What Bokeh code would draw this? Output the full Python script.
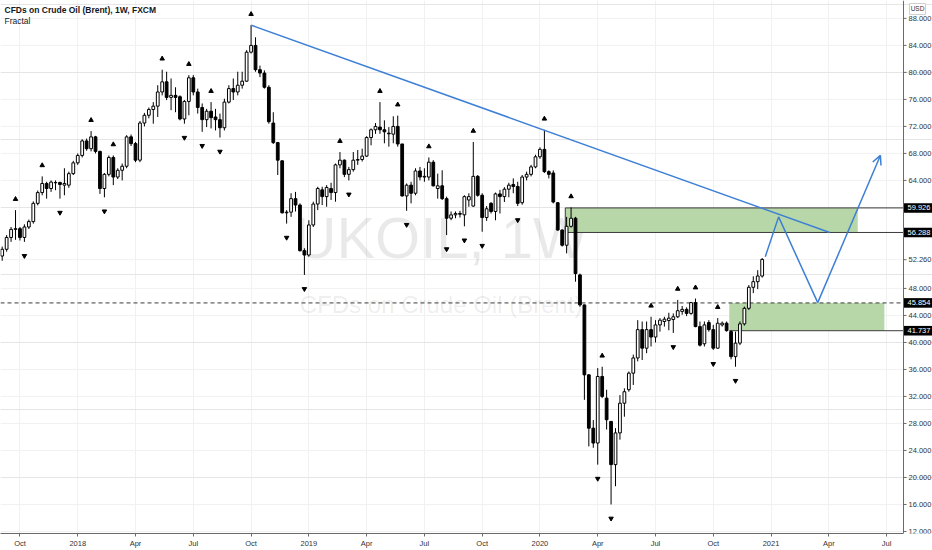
import numpy as np
import pandas as pd
from bokeh.plotting import figure
from bokeh.models import (Range1d, FixedTicker, Label, Span, Arrow, OpenHead, ColumnDataSource)
from bokeh.core.properties import value
from bokeh.embed import file_html
from bokeh.resources import INLINE

# ---------------- data ----------------
first_bar = "2017-09-03"   # weekly bars (Sunday start, FXCM)

opens = [
    52.8, 53.8, 55.55, 56.75, 56.85, 55.55, 57.1, 57.9, 60.6, 62.2,
    63.55, 62.8, 63.65, 63.7, 63.3, 63.3, 65.0, 66.6, 67.7, 69.85,
    68.7, 70.45, 68.3, 62.8, 64.9, 67.4, 64.5, 65.5, 66.1, 70.45,
    69.45, 67.0, 72.5, 73.65, 74.5, 75.0, 77.1, 78.6, 76.3, 76.6,
    76.4, 73.1, 75.7, 79.2, 77.1, 74.8, 73.0, 74.25, 73.4, 73.0,
    71.8, 75.6, 77.6, 77.1, 78.1, 78.7, 83.0, 84.0, 80.4, 79.9,
    77.8, 72.5, 69.6, 66.9, 59.2, 59.3, 61.3, 60.35, 53.6, 52.95,
    57.4, 60.5, 62.6, 61.6, 62.8, 62.2, 66.3, 67.0, 64.9, 65.6,
    67.0, 67.1, 67.6, 70.35, 71.5, 71.9, 71.5, 71.0, 70.85, 72.0,
    69.4, 61.7, 63.3, 62.1, 65.4, 64.5, 64.5, 66.7, 62.8, 63.2,
    61.3, 58.4, 58.9, 59.1, 58.9, 61.1, 60.2, 64.6, 61.8, 58.5,
    60.6, 59.4, 62.0, 61.6, 62.7, 63.4, 63.1, 60.7, 64.5, 64.9,
    66.0, 67.5, 68.6, 65.3, 65.1, 60.7, 56.65, 54.4, 57.2, 58.4,
    50.0, 45.56, 35.2, 27.3, 25.1, 34.96, 31.75, 28.3, 21.9, 26.6,
    31.0, 33.0, 35.45, 37.7, 41.9, 39.15, 41.9, 40.8, 42.6, 43.1,
    43.24, 43.4, 43.8, 44.6, 44.9, 44.3, 45.9, 42.35, 39.8, 42.95,
    41.9, 39.15, 42.6, 42.85, 41.6, 37.9, 39.9, 42.75, 45.06, 48.17,
    49.0, 49.84]

highs = [
    54.2, 55.9, 57.1, 59.6, 57.1, 57.5, 58.2, 60.9, 62.5, 64.6,
    63.8, 64.0, 64.0, 63.8, 65.8, 65.3, 66.9, 68.0, 70.1, 70.2,
    71.3, 70.6, 68.4, 65.1, 67.7, 67.7, 65.8, 66.5, 70.7, 70.8,
    69.7, 72.8, 74.0, 74.8, 75.6, 78.1, 80.4, 80.1, 79.1, 77.8,
    76.6, 75.9, 79.6, 79.6, 77.6, 75.4, 74.6, 75.6, 74.6, 73.9,
    76.1, 78.1, 79.1, 80.1, 80.1, 83.3, 87.0, 85.2, 81.0, 80.3,
    78.1, 74.1, 69.7, 67.0, 59.6, 62.1, 62.3, 60.6, 53.95, 58.1,
    60.85, 63.06, 63.06, 63.3, 63.65, 66.5, 68.2, 67.1, 66.0, 68.2,
    68.5, 68.7, 70.55, 71.7, 72.5, 75.6, 72.9, 71.9, 73.5, 73.6,
    69.4, 63.55, 63.8, 65.8, 66.0, 65.8, 67.4, 67.0, 65.0, 65.5,
    61.6, 59.4, 59.4, 59.5, 61.8, 62.1, 69.7, 64.8, 62.1, 60.2,
    60.8, 62.2, 62.6, 63.0, 63.65, 64.3, 63.8, 64.8, 65.3, 66.3,
    67.8, 68.9, 71.5, 65.5, 65.5, 60.8, 56.75, 58.6, 60.0, 58.6,
    50.2, 45.6, 35.3, 28.5, 36.2, 36.4, 33.0, 28.3, 27.3, 32.2,
    33.2, 35.7, 38.2, 43.3, 43.1, 43.1, 43.8, 43.3, 43.6, 43.8,
    44.4, 44.3, 46.3, 45.4, 45.2, 46.0, 46.5, 43.1, 43.1, 43.3,
    42.6, 43.6, 43.1, 43.1, 41.8, 41.6, 43.1, 45.3, 48.5, 49.8,
    50.7, 52.5]

lows = [
    52.1, 53.45, 54.9, 55.2, 55.1, 54.9, 56.8, 57.6, 60.3, 61.8,
    61.3, 62.3, 62.55, 61.3, 61.8, 62.9, 64.8, 66.3, 67.4, 68.4,
    68.3, 68.0, 62.0, 61.5, 64.6, 63.3, 64.2, 64.0, 65.8, 69.1,
    66.7, 66.7, 72.0, 73.2, 72.4, 73.4, 76.6, 75.9, 74.4, 74.1,
    72.9, 72.4, 73.65, 76.6, 73.9, 71.2, 71.9, 71.7, 71.4, 70.35,
    71.4, 75.4, 75.9, 76.6, 77.6, 78.6, 82.8, 80.1, 79.3, 77.6,
    72.4, 69.4, 64.8, 59.1, 57.6, 58.6, 59.4, 53.45, 50.0, 52.7,
    57.1, 59.6, 60.35, 60.1, 61.1, 60.85, 65.8, 64.5, 64.0, 65.3,
    66.3, 66.8, 67.5, 69.2, 70.9, 70.9, 69.5, 69.0, 69.5, 69.0,
    61.6, 59.5, 60.6, 61.8, 64.0, 63.8, 64.0, 63.1, 61.3, 61.1,
    55.9, 58.1, 58.4, 58.5, 57.2, 60.1, 60.1, 61.6, 56.4, 58.0,
    59.1, 58.1, 59.1, 60.8, 61.5, 62.1, 60.2, 60.4, 64.0, 64.6,
    65.8, 67.2, 65.1, 64.3, 60.6, 56.55, 54.2, 53.2, 57.0, 49.0,
    45.3, 31.5, 24.6, 24.4, 21.9, 31.75, 27.1, 16.0, 18.7, 25.6,
    29.0, 32.7, 33.7, 37.2, 37.4, 38.4, 39.4, 40.0, 41.6, 42.35,
    41.8, 41.4, 43.6, 44.1, 43.9, 44.1, 42.25, 39.4, 39.4, 41.6,
    38.9, 39.1, 42.35, 41.6, 37.5, 36.4, 39.6, 42.5, 44.8, 47.3,
    47.9, 49.6]

closes = [
    53.8, 55.55, 56.75, 56.85, 55.55, 57.1, 57.9, 60.6, 62.2, 63.55,
    62.8, 63.75, 63.7, 63.4, 63.55, 65.0, 66.6, 67.7, 69.85, 68.7,
    70.45, 68.3, 62.8, 64.9, 67.4, 64.5, 65.5, 66.1, 70.45, 69.45,
    67.0, 72.5, 73.65, 74.5, 75.0, 77.1, 78.6, 76.3, 76.6, 76.3,
    73.1, 75.7, 79.2, 77.1, 74.8, 73.0, 74.25, 73.3, 73.0, 71.8,
    75.6, 77.6, 77.1, 78.1, 78.7, 83.0, 84.0, 80.4, 79.9, 77.8,
    72.7, 69.6, 67.0, 59.2, 59.3, 61.3, 60.35, 53.6, 52.95, 57.4,
    60.5, 62.8, 61.6, 62.96, 62.2, 66.3, 67.0, 64.9, 65.6, 67.0,
    67.1, 67.6, 70.35, 71.5, 72.0, 71.5, 71.2, 70.9, 72.0, 69.4,
    61.7, 63.3, 62.1, 65.4, 64.5, 64.6, 66.7, 63.2, 63.2, 61.3,
    58.4, 58.9, 59.1, 59.0, 61.6, 61.6, 64.6, 61.8, 58.5, 59.8,
    59.4, 62.0, 61.6, 62.7, 63.3, 63.1, 60.6, 64.5, 64.9, 66.0,
    67.5, 68.6, 65.3, 64.9, 60.8, 56.65, 54.4, 57.2, 58.4, 50.2,
    45.56, 35.2, 27.3, 25.1, 34.96, 32.0, 28.55, 21.9, 26.6, 31.0,
    32.7, 35.45, 37.7, 41.9, 39.15, 41.9, 40.8, 42.6, 43.3, 43.45,
    43.6, 43.8, 44.7, 44.9, 44.3, 45.9, 42.35, 39.6, 42.6, 41.9,
    39.15, 42.85, 42.85, 41.75, 37.9, 39.9, 42.75, 45.06, 48.17, 49.0,
    49.84, 52.3]

# Williams fractal bars (1-based bar numbers)
fractal_up = [4, 10, 21, 26, 37, 43, 48, 57, 77, 86, 90, 97, 107, 123, 129,
              136, 147, 153, 157, 162]
fractal_down = [6, 14, 24, 42, 46, 50, 65, 69, 79, 92, 101, 105, 109, 117,
                135, 138, 152, 161, 166]

tick_dates = ["2017-10-01", "2018-01-01", "2018-04-01", "2018-07-01", "2018-10-01",
              "2019-01-01", "2019-04-01", "2019-07-01", "2019-10-01", "2020-01-01",
              "2020-04-01", "2020-07-01", "2020-10-01", "2021-01-01", "2021-04-01",
              "2021-07-01"]
tick_labels = ["Oct", "2018", "Apr", "Jul", "Oct", "2019", "Apr", "Jul", "Oct",
               "2020", "Apr", "Jul", "Oct", "2021", "Apr", "Jul"]

price_ticks = [88, 84, 80, 76, 72, 68, 64, 52.26, 48, 44, 40, 36, 32, 28, 24, 20, 16, 12]

# drawings (weeks from first bar, prices)
upper_zone = [59.926, 56.288]
lower_zone = [45.854, 41.737]
upper_zone_weeks = [126.7, 192.5]
lower_zone_weeks = [163.6, 198.5]
trend_end_week = 186.2
proj_weeks = [171.7, 174.7, 183.5, 197.6]
proj_prices = [52.7, 58.6, 45.9, 67.7]

# ---------------- figure ----------------
o = np.array(opens); h = np.array(highs); l = np.array(lows); c = np.array(closes)
h = np.maximum(h, np.maximum(o, c)); l = np.minimum(l, np.minimum(o, c))
n = len(o)
x = np.arange(n)

FIG_W, FIG_H = 932, 550
AX_PX = 29          # width of the price scale
BOTTOM_PX = 16      # height of the time scale
X0, X1 = -0.38, 202.8
Y0, Y1 = 11.7, 90.65
X_END = X0 + (X1 - X0) * FIG_W / (FIG_W - AX_PX)
wpp = (X_END - X0) / FIG_W              # weeks per pixel
upp = (Y1 - Y0) / (FIG_H - BOTTOM_PX)   # price per pixel

FONT = "Liberation Sans"
BLUE = "#3d7fd6"
GREEN = "#b7d7a8"
DARK = "#3c3c3c"
AXC = "#6a6a6a"

p = figure(width=FIG_W, height=FIG_H, x_range=Range1d(X0, X_END), y_range=Range1d(Y0, Y1),
           output_backend="svg", toolbar_location=None, y_axis_location=None,
           min_border_left=0, min_border_top=0, min_border_right=0,
           min_border_bottom=BOTTOM_PX)
p.outline_line_color = None
p.background_fill_color = "white"
p.border_fill_color = "white"

# time axis
first = pd.Timestamp(first_bar)
tick_pos = [int((pd.Timestamp(d) - first).days // 7) for d in tick_dates]
xa = p.xaxis[0]
xa.ticker = FixedTicker(ticks=tick_pos)
xa.major_label_overrides = {tp: lab for tp, lab in zip(tick_pos, tick_labels)}
xa.bounds = (X0, X1)
xa.axis_line_color = AXC
xa.major_tick_line_color = AXC
xa.minor_tick_line_color = None
xa.major_tick_in = 0
xa.major_tick_out = 3
xa.major_label_text_font = FONT
xa.major_label_text_font_size = "7.5px"
xa.major_label_text_color = "#333333"
xa.major_label_standoff = 2
p.xgrid.grid_line_color = "#f1f1f1"

# horizontal grid at the price ticks
p.segment(x0=X0, x1=X1, y0=price_ticks, y1=price_ticks, line_color="#f1f1f1",
          line_width=1, level="underlay")

# watermark
wm_x = X0 + 0.488 * (X1 - X0)
p.add_layout(Label(x=wm_x, y=Y0 + 0.555 * (Y1 - Y0), text="UKOIL, 1W", text_align="center",
                   text_baseline="middle", text_font=FONT, text_font_size="58px",
                   text_color="#000000", text_alpha=0.085, level="underlay"))
p.add_layout(Label(x=wm_x, y=Y0 + 0.43 * (Y1 - Y0), text="CFDs on Crude Oil (Brent)",
                   text_align="center", text_baseline="middle", text_font=FONT,
                   text_font_size="24px", text_color="#000000", text_alpha=0.085,
                   level="underlay"))

# zones
p.quad(left=[upper_zone_weeks[0], lower_zone_weeks[0]],
       right=[upper_zone_weeks[1], lower_zone_weeks[1]],
       top=[upper_zone[0], lower_zone[0]], bottom=[upper_zone[1], lower_zone[1]],
       fill_color=GREEN, fill_alpha=1.0, line_color=None)
p.segment(x0=[upper_zone_weeks[0], upper_zone_weeks[0], lower_zone_weeks[0], upper_zone_weeks[0]],
          y0=[upper_zone[0], upper_zone[1], lower_zone[1], upper_zone[1]],
          x1=[X1, X1, X1, upper_zone_weeks[0]],
          y1=[upper_zone[0], upper_zone[1], lower_zone[1], upper_zone[0]],
          line_color=DARK, line_width=1)
p.segment(x0=[X0], y0=[lower_zone[0]], x1=[X1], y1=[lower_zone[0]],
          line_color=DARK, line_width=1, line_dash="4 3")

# candles
src = ColumnDataSource(dict(x=x, h=h, l=l, top=np.maximum(o, c), bot=np.minimum(o, c),
                            fill=np.where(c >= o, "white", "black")))
p.segment(x0="x", y0="h", x1="x", y1="l", source=src, line_color="black", line_width=1)
p.vbar(x="x", width=0.62, top="top", bottom="bot", fill_color="fill",
       line_color="black", line_width=1, source=src)

# fractals
fu = np.array(fractal_up) - 1
fd = np.array(fractal_down) - 1
p.scatter(x[fu], h[fu] + 11 * upp, marker="triangle", size=4.5, color="black")
p.scatter(x[fd], l[fd] - 14 * upp, marker="inverted_triangle", size=4.5, color="black")

# trend line from the top
i_top = int(np.argmax(h))
p.line([x[i_top], trend_end_week], [h[i_top], upper_zone[1]], line_color=BLUE, line_width=1.5)

# projected path
p.line(proj_weeks[:3], proj_prices[:3], line_color=BLUE, line_width=1.5)
p.add_layout(Arrow(end=OpenHead(size=9, line_color=BLUE, line_width=1.5),
                   x_start=proj_weeks[2], y_start=proj_prices[2],
                   x_end=proj_weeks[3], y_end=proj_prices[3],
                   line_color=BLUE, line_width=1.5))

# ---- price scale ----
p.segment(x0=X1, x1=X1 + 3 * wpp, y0=price_ticks, y1=price_ticks, line_color=AXC, line_width=1)
p.text(x=X1 + 5 * wpp, y=price_ticks, text=[f"{t:.3f}" for t in price_ticks],
       text_font=value(FONT), text_font_size=value("7.5px"), text_color="#333333",
       text_align="left", text_baseline="middle")
marks = [upper_zone[0], upper_zone[1], lower_zone[0], lower_zone[1]]
p.quad(left=X1, right=X_END, bottom=[m - 4.8 * upp for m in marks],
       top=[m + 4.8 * upp for m in marks], fill_color="black", line_color=None)
p.text(x=X1 + 4 * wpp, y=marks, text=[f"{m:.3f}" for m in marks],
       text_font=value(FONT), text_font_size=value("7.5px"), text_color="white",
       text_align="left", text_baseline="middle")
p.quad(left=[X1 + 6 * wpp], right=[X1 + 22 * wpp], top=[Y1 - 3 * upp], bottom=[Y1 - 14 * upp],
       fill_color="white", line_color="#cfcfcf", line_width=1)
p.text(x=[X1 + 14 * wpp], y=[Y1 - 8.5 * upp], text=["USD"], text_font=value(FONT),
       text_font_size=value("6.5px"), text_color="#333333", text_align="center",
       text_baseline="middle")
p.add_layout(Span(location=X1, dimension="height", line_color=AXC, line_width=1))

# titles
p.add_layout(Label(x=X0, y=Y1, x_offset=4, y_offset=-9, text="CFDs on Crude Oil (Brent), 1W, FXCM",
                   text_baseline="middle", text_font=FONT, text_font_size="8.5px",
                   text_font_style="bold", text_color="#131722"))
p.add_layout(Label(x=X0, y=Y1, x_offset=4, y_offset=-20, text="Fractal",
                   text_baseline="middle", text_font=FONT, text_font_size="8.5px",
                   text_color="#131722"))

open("out.html", "w").write(file_html(p, INLINE))
